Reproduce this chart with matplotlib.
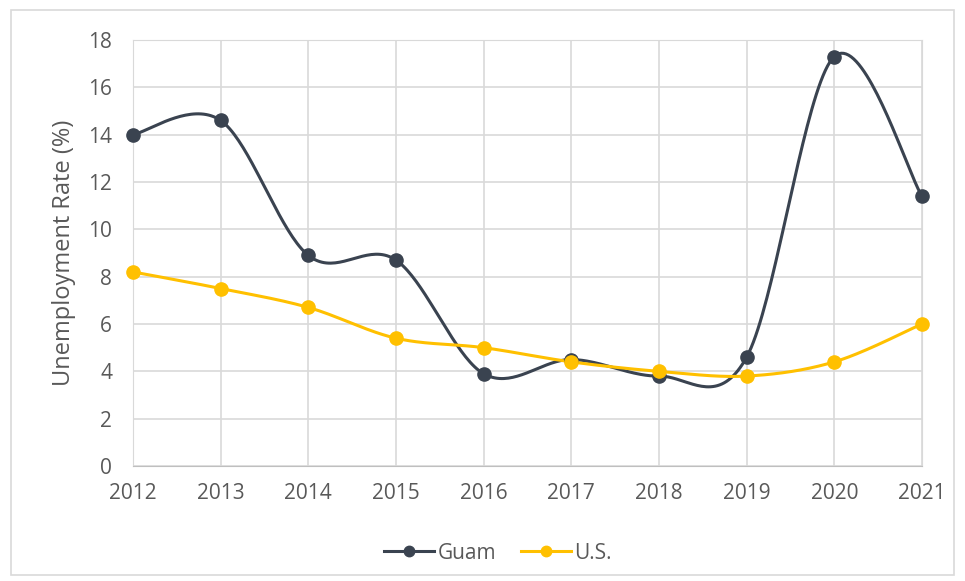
import numpy as np
import matplotlib.pyplot as plt
from matplotlib.patches import Rectangle

years = [2012, 2013, 2014, 2015, 2016, 2017, 2018, 2019, 2020, 2021]
guam = [14.0, 14.6, 8.9, 8.7, 3.9, 4.5, 3.8, 4.6, 17.3, 11.4]
us = [8.2, 7.5, 6.7, 5.4, 5.0, 4.4, 4.0, 3.8, 4.4, 6.0]

GUAM_COLOR = '#3a4350'
US_COLOR = '#ffc000'


def smooth(x, y, n=40):
    # catmull-rom style bezier through each point, like a spreadsheet "smoothed line"
    x = np.asarray(x, float)
    y = np.asarray(y, float)
    px = np.concatenate([[x[0]], x, [x[-1]]])
    py = np.concatenate([[y[0]], y, [y[-1]]])
    xs, ys = [], []
    t = np.linspace(0, 1, n)
    for i in range(1, len(px) - 2):
        p0 = np.array([px[i], py[i]])
        p3 = np.array([px[i + 1], py[i + 1]])
        c1 = p0 + (np.array([px[i + 1], py[i + 1]]) - np.array([px[i - 1], py[i - 1]])) / 6
        c2 = p3 - (np.array([px[i + 2], py[i + 2]]) - np.array([px[i], py[i]])) / 6
        b = (np.outer((1 - t) ** 3, p0) + np.outer(3 * (1 - t) ** 2 * t, c1)
             + np.outer(3 * (1 - t) * t ** 2, c2) + np.outer(t ** 3, p3))
        xs.extend(b[:, 0])
        ys.extend(b[:, 1])
    return xs, ys


plt.rcParams['font.family'] = ['Open Sans', 'DejaVu Sans']

fig = plt.figure(figsize=(9.65, 5.81), dpi=100)
fig.patches.append(Rectangle((0.011, 0.01), 0.978, 0.972, transform=fig.transFigure,
                             fill=False, edgecolor='#d9d9d9', linewidth=1.2))
ax = fig.add_axes([0.1378, 0.1979, 0.8176, 0.7333])

for vals, color, name in [(guam, GUAM_COLOR, 'Guam'), (us, US_COLOR, 'U.S.')]:
    sx, sy = smooth(years, vals)
    ax.plot(sx, sy, color=color, linewidth=2.2, zorder=3)
    ax.plot(years, vals, 'o', color=color, markersize=9.5, zorder=4)
    ax.plot([], [], '-o', color=color, linewidth=2.2, markersize=7.5, label=name)

ax.set_xlim(2012, 2021)
ax.set_ylim(0, 18)
ax.set_xticks(years)
ax.set_yticks(range(0, 19, 2))
ax.grid(True, color='#d9d9d9', linewidth=1.2)
ax.set_axisbelow(True)
for side in ['top', 'right', 'left']:
    ax.spines[side].set_color('#d9d9d9')
ax.spines['bottom'].set_color('#bfbfbf')
ax.tick_params(length=0, labelsize=15, labelcolor='#595959')
ax.tick_params(axis='x', pad=12)
ax.tick_params(axis='y', pad=15)
ax.set_ylabel('Unemployment Rate (%)', fontsize=17, color='#595959', labelpad=9)
for line in ax.get_lines():
    line.set_clip_on(False)

fig.legend(loc='center', bbox_to_anchor=(0.516, 0.048), ncol=2, frameon=False,
           fontsize=15, labelcolor='#595959', handlelength=2.4, handletextpad=0.15,
           columnspacing=1.2)

fig.savefig('out.png', dpi=100)
